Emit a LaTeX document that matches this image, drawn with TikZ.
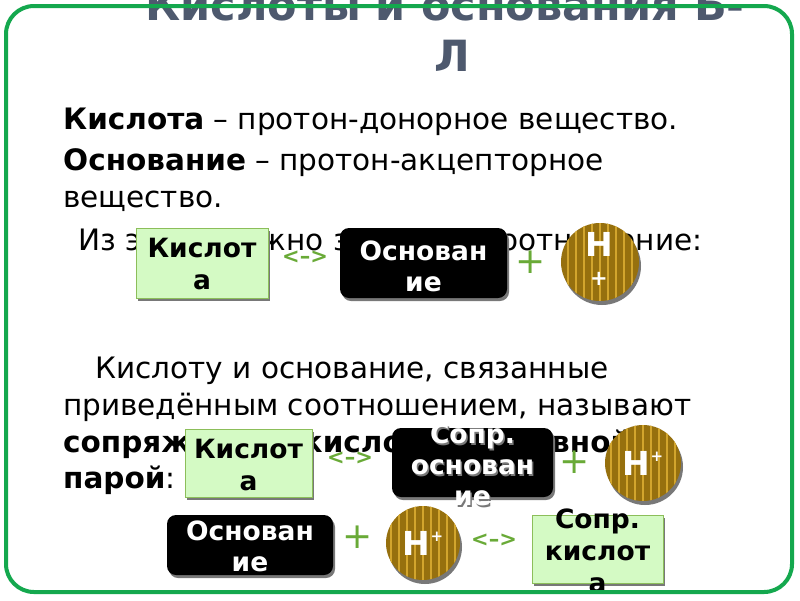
\documentclass[tikz,border=0pt]{standalone}
\usepackage{fontspec}
\setmainfont{DejaVu Sans}
\usetikzlibrary{shadows}
\definecolor{titlec}{RGB}{78,89,110}
\definecolor{framec}{RGB}{20,168,78}
\definecolor{gfill}{RGB}{212,250,196}
\definecolor{gborder}{RGB}{140,190,90}
\definecolor{plusc}{RGB}{105,170,55}
\definecolor{hfill}{RGB}{150,112,14}
\definecolor{hstripe}{RGB}{210,165,45}
\definecolor{shadc}{RGB}{120,120,120}
\tikzset{
  body/.style={anchor=base west, inner sep=0pt, font=\fontsize{29.5}{34}\selectfont},
  gbox/.style={draw=gborder, line width=1pt, fill=gfill, inner sep=0pt,
     drop shadow={shadow xshift=2pt, shadow yshift=-3pt, fill=shadc, opacity=1}},
  bbox/.style={fill=black, rounded corners=9pt, inner sep=0pt,
     drop shadow={shadow xshift=2pt, shadow yshift=-3pt, fill=shadc, opacity=1}},
  gtext/.style={align=center, inner sep=0pt, font=\bfseries\fontsize{26.5}{32}\selectfont, text=black},
  btext/.style={align=center, inner sep=0pt, font=\bfseries\fontsize{26.5}{31}\selectfont, text=white},
  bshadow/.style={align=center, inner sep=0pt, font=\bfseries\fontsize{26.5}{31}\selectfont, text=shadc},
  hcirc/.style={circle, fill=hfill, inner sep=0pt, minimum size=#1,
     drop shadow={shadow xshift=2pt, shadow yshift=-4pt, fill=shadc, opacity=1},
     path picture={\foreach \i in {-40,-32,...,40}
        \draw[hstripe, line width=1.3pt] ([xshift=\i pt]path picture bounding box.north) -- ([xshift=\i pt]path picture bounding box.south);}},
  htext/.style={inner sep=0pt, text=white, font=\bfseries\fontsize{33}{34}\selectfont},
  plus/.style={inner sep=0pt, text=plusc, font=\fontsize{36}{36}\selectfont},
  dbl/.style={inner sep=0pt, text=plusc, font=\bfseries\fontsize{21}{21}\selectfont},
}
\begin{document}
\begin{tikzpicture}[x=1pt,y=-1pt]
\useasboundingbox (0,0) rectangle (800,600);
\fill[white] (0,0) rectangle (800,600);
% title
\node[anchor=base, inner sep=0pt, text=titlec, font=\bfseries\fontsize{43}{46}\selectfont] (t1) at (445,20) {Кислоты и основания Б-};
\node[anchor=base, inner sep=0pt, text=titlec, font=\bfseries\fontsize{43}{46}\selectfont] (t2) at (452,71) {Л};
% body
\node[body] (l1) at (63,129) {\textbf{Кислота} – протон-донорное вещество.};
\node[body] (l2) at (63,170) {\textbf{Основание} – протон-акцепторное};
\node[body] (l3) at (63,207) {вещество.};
\node[body] (l4) at (78,250) {Из этого можно записать соотношение:};
\node[body] (l5) at (95,378) {Кислоту и основание, связанные};
\node[body] (l6) at (63,415) {приведённым соотношением, называют};
\node[body] (l7) at (63,452) {\textbf{сопряжённой кислотно-основной}};
\node[body] (l8) at (63,488) {\textbf{парой}:};
% row 1
\node[gbox, minimum width=132pt, minimum height=70pt] (k1) at (202,263) {};
\node[gtext] (k1t) at (202,264) {Кислот\\а};
\node[dbl] (a1) at (305,257) {<–>};
\node[bbox, minimum width=167pt, minimum height=70pt] (o1) at (423.5,263) {};
\node[btext] (o1t) at (423.5,266) {Основан\\ие};
\node[plus] (p1) at (531,262) {+};
\node[hcirc=78pt] (h1) at (600,262) {};
\node[htext] (h1a) at (599,244) {H};
\node[inner sep=0pt, text=white, font=\bfseries\fontsize{21}{21}\selectfont] (h1b) at (599,279) {+};
% row 2
\node[gbox, minimum width=127pt, minimum height=68pt] (k2) at (248.5,463) {};
\node[gtext] (k2t) at (248.5,465) {Кислот\\а};
\node[dbl] (a2) at (350,458) {<–>};
\node[bbox, minimum width=161pt, minimum height=69pt] (o2) at (472.5,462.5) {};
\node[bshadow] at (474,467) {Сопр.\\основан\\ие};
\node[btext] (o2t) at (472.5,465) {Сопр.\\основан\\ие};
\node[plus] (p2) at (575,462) {+};
\node[hcirc=76pt] (h2) at (643,463) {};
\node[htext] (h2t) at (643,463) {H\raisebox{0.42em}{\fontsize{15}{15}\selectfont +}};
% row 3
\node[bbox, minimum width=166pt, minimum height=60pt] (o3) at (250,545) {};
\node[btext] (o3t) at (250,546) {Основан\\ие};
\node[plus] (p3) at (358,537) {+};
\node[hcirc=74pt] (h3) at (423,543) {};
\node[htext] (h3t) at (423,543) {H\raisebox{0.42em}{\fontsize{15}{15}\selectfont +}};
\node[dbl] (a3) at (494,540) {<–>};
\node[gbox, minimum width=131pt, minimum height=68pt] (k3) at (597.5,549) {};
\node[gtext] (k3t) at (597.5,551) {Сопр.\\кислот\\а};
% frame
\draw[framec, line width=4pt, rounded corners=28pt] (6,6) rectangle (792,592);
\end{tikzpicture}
\end{document}
